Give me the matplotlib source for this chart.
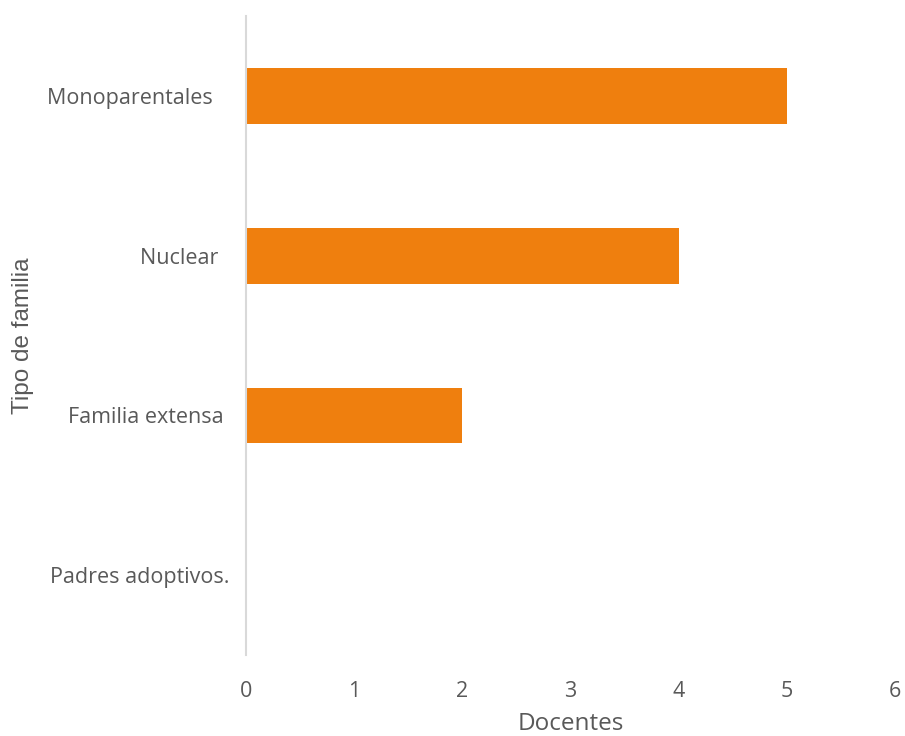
import matplotlib
matplotlib.use("Agg")
import matplotlib.pyplot as plt

# teachers per family type
categorias = ["Padres adoptivos.", "Familia extensa ", "Nuclear  ", "Monoparentales   "]
docentes = [0, 2, 4, 5]
xticks = [0, 1, 2, 3, 4, 5, 6]

GRIS = "#595959"
NARANJA = "#EF7F0E"

plt.rcParams["font.family"] = ["Open Sans", "DejaVu Sans"]

fig = plt.figure(figsize=(9.05, 7.36), dpi=100)
ax = fig.add_axes([0.2718, 0.110, 0.7171, 0.868])

pos = range(len(categorias))
ax.barh(pos, docentes, height=0.35, color=NARANJA)

ax.set_xlim(0, 6)
ax.set_ylim(-0.5, len(categorias) - 0.5)
ax.set_xticks(xticks)
ax.set_yticks(list(pos))
ax.set_yticklabels(categorias)

for s in ["top", "right", "bottom"]:
    ax.spines[s].set_visible(False)
ax.spines["left"].set_color("#D9D9D9")
ax.spines["left"].set_linewidth(1.5)

ax.tick_params(axis="both", length=0, labelsize=15.5, labelcolor=GRIS)
ax.tick_params(axis="y", pad=12)
ax.tick_params(axis="x", pad=19)

ax.set_xlabel("Docentes", fontsize=17.5, color=GRIS, labelpad=7)
ax.set_ylabel("Tipo de familia", fontsize=17.5, color=GRIS, labelpad=9,
              family=["Liberation Sans", "DejaVu Sans"])

fig.savefig("out.png", dpi=100)
plt.close(fig)
